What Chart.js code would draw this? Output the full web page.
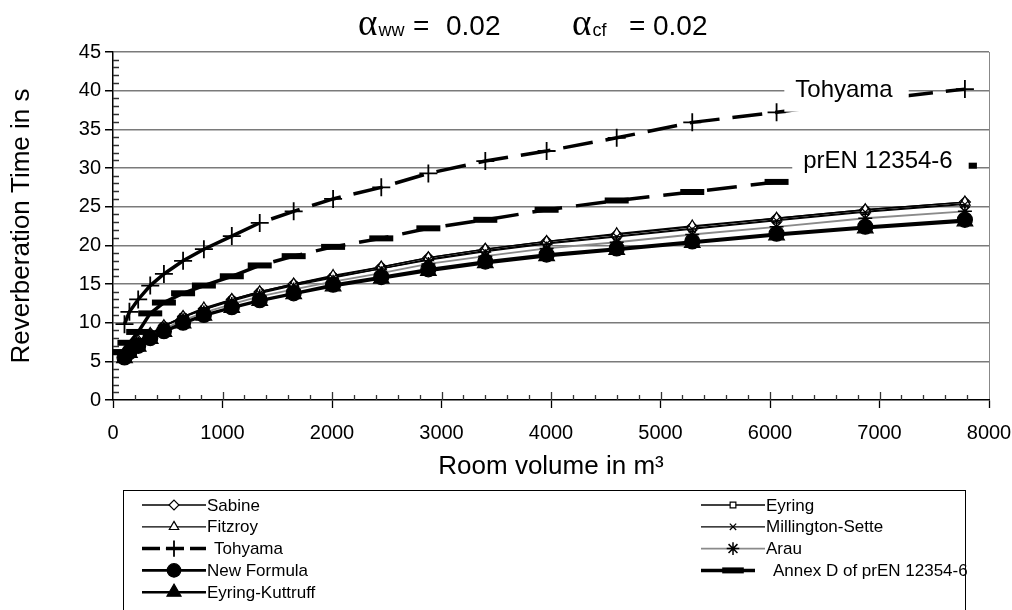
<!DOCTYPE html>
<html lang="en">
<head>
<meta charset="UTF-8">
<title>Reverberation time vs room volume</title>
<script src="https://cdn.jsdelivr.net/npm/chart.js@4"></script>
<style>
    * { margin: 0; padding: 0; box-sizing: border-box; }
    body { background: #fff; width: 1012px; height: 610px; overflow: hidden; }
    .wrap { position: relative; width: 1012px; height: 610px; }
</style>
</head>
<body>
<div class="wrap"><canvas id="rtChart"></canvas></div>
<script>
// room volumes in m³ (shared x values of all curves)
const volume = [105, 150, 230, 340, 465, 640, 830, 1085, 1340, 1650, 2010, 2450, 2880, 3400, 3960, 4600, 5290, 6060, 6870, 7780];

// reverberation times in s
const sabine          = [5.9, 6.7, 7.6, 8.6, 9.6, 10.8, 11.8, 13.0, 14.0, 15.0, 16.0, 17.2, 18.4, 19.5, 20.5, 21.4, 22.4, 23.5, 24.6, 25.6];
const eyring          = [5.8, 6.6, 7.5, 8.5, 9.5, 10.7, 11.7, 12.9, 13.9, 14.9, 15.9, 17.0, 18.2, 19.3, 20.3, 21.2, 22.2, 23.3, 24.4, 25.4];
const fitzroy         = [5.9, 6.7, 7.7, 8.6, 9.6, 10.8, 11.9, 13.0, 14.0, 15.0, 16.1, 17.2, 18.4, 19.5, 20.5, 21.5, 22.5, 23.5, 24.6, 25.6];
const millingtonSette = [5.8, 6.6, 7.5, 8.5, 9.5, 10.7, 11.7, 12.8, 13.8, 14.8, 15.8, 17.0, 18.1, 19.2, 20.2, 21.1, 22.1, 23.2, 24.3, 25.3];
const tohyama         = [9.8, 11.4, 13.0, 14.8, 16.3, 18.0, 19.5, 21.2, 22.9, 24.4, 26.0, 27.5, 29.3, 30.9, 32.2, 33.9, 35.9, 37.2, 38.7, 40.2];
const arau            = [5.6, 6.4, 7.3, 8.2, 9.2, 10.3, 11.3, 12.4, 13.4, 14.3, 15.3, 16.4, 17.6, 18.6, 19.6, 20.4, 21.4, 22.4, 23.5, 24.4];
const newFormula      = [5.5, 6.2, 7.0, 8.0, 8.9, 10.0, 11.0, 12.0, 12.9, 13.8, 14.9, 15.9, 16.9, 17.9, 18.8, 19.6, 20.5, 21.5, 22.4, 23.3];
const annexD          = [6.2, 7.4, 8.8, 11.2, 12.6, 13.8, 14.8, 16.0, 17.4, 18.6, 19.8, 20.9, 22.2, 23.3, 24.6, 25.8, 26.9, 28.2, 29.3, 30.3];
const eyringKuttruff  = [5.4, 6.1, 6.9, 7.9, 8.8, 9.9, 10.9, 11.9, 12.8, 13.7, 14.7, 15.7, 16.7, 17.7, 18.6, 19.4, 20.3, 21.3, 22.2, 23.1];

// axis ranges / tick steps
const xMin = 0, xMax = 8000, xStep = 1000, xMinorStep = 200;
const yMin = 0, yMax = 45, yStep = 5, yMinorStep = 1;

// in-plot curve labels (data coordinates of the text centre)
const curveLabels = [
    { text: 'Tohyama', x: 6676, y: 40.0 },
    { text: 'prEN 12354-6', x: 6986, y: 30.8 }
];

const FONT = '"Liberation Sans", Arial, sans-serif';
const pts = arr => volume.map((v, i) => ({ x: v, y: arr[i] }));
// Excel restarts the dash on every segment, so dense points look solid
const excelDash = pattern => ({ borderDash: c => (c.p0.parsed.x < 1000 ? [] : pattern) });

function series(label, data, o) {
    return Object.assign({
        label: label, data: pts(data),
        borderColor: '#000', borderWidth: 1.3,
        pointBackgroundColor: '#fff', pointBorderColor: '#000', pointBorderWidth: 1.2,
        pointRadius: 5, pointHoverRadius: 5, tension: 0, fill: false
    }, o);
}

const datasets = [
    series('Sabine', sabine, { pointStyle: 'rectRot', pointRadius: 5.5, order: 8 }),
    series('Eyring', eyring, { pointStyle: 'rect', pointRadius: 4.5, order: 7 }),
    series('Fitzroy', fitzroy, { pointStyle: 'triangle', pointRadius: 6, order: 6 }),
    series('Millington-Sette', millingtonSette, { pointStyle: 'crossRot', pointRadius: 5, order: 5 }),
    series('Tohyama', tohyama, { pointStyle: 'cross', pointRadius: 9, pointBorderWidth: 1.8, borderWidth: 3.5,
        segment: excelDash([30, 13]), legendDash: [18, 6], order: 3 }),
    series('Arau', arau, { pointStyle: 'star', pointRadius: 7, borderColor: '#8a8a8a', borderWidth: 1.8,
        pointBorderWidth: 1.5, order: 4 }),
    series('New Formula', newFormula, { pointStyle: 'circle', pointRadius: 7.5, pointBackgroundColor: '#000',
        borderWidth: 2.6, order: 1 }),
    series('Annex D of prEN 12354-6', annexD, { pointStyle: 'line', pointRadius: 12, pointBorderWidth: 6,
        borderWidth: 3.5, segment: excelDash([30, 14]), legendDash: [22, 10], order: 2 }),
    series('Eyring-Kuttruff', eyringKuttruff, { pointStyle: 'triangle', pointRadius: 9, pointBackgroundColor: '#000',
        borderWidth: 2.6, order: 0 })
];

// minor tick marks inside the plot area, plus upper half of the x major ticks
const minorTicks = {
    id: 'minorTicks',
    beforeDatasetsDraw(chart) {
        const { ctx, chartArea: a, scales: { x, y } } = chart;
        ctx.save();
        ctx.strokeStyle = '#333';
        ctx.lineWidth = 1.3;
        ctx.beginPath();
        for (let v = yMin + yMinorStep; v < yMax; v += yMinorStep) {
            if (v % yStep === 0) continue;
            const py = Math.round(y.getPixelForValue(v)) + 0.5;
            ctx.moveTo(a.left, py); ctx.lineTo(a.left + 6, py);
        }
        for (let v = xMin + xMinorStep; v < xMax; v += xMinorStep) {
            const px = Math.round(x.getPixelForValue(v)) + 0.5;
            ctx.moveTo(px, a.bottom); ctx.lineTo(px, a.bottom - (v % xStep === 0 ? 8 : 5));
        }
        ctx.stroke();
        ctx.restore();
    }
};

// white boxes with curve names, drawn over the curves
const inPlotLabels = {
    id: 'inPlotLabels',
    afterDatasetsDraw(chart) {
        const { ctx, scales: { x, y } } = chart;
        ctx.save();
        ctx.font = '24px ' + FONT;
        ctx.textAlign = 'center';
        ctx.textBaseline = 'middle';
        curveLabels.forEach(l => {
            const px = x.getPixelForValue(l.x), py = y.getPixelForValue(l.y);
            const w = ctx.measureText(l.text).width;
            ctx.fillStyle = '#fff';
            ctx.fillRect(px - w / 2 - 11, py - 15, w + 27, 36);
            ctx.fillStyle = '#000';
            ctx.fillText(l.text, px, py);
        });
        ctx.restore();
    }
};

// title with greek alpha and subscripts
const alphaTitle = {
    id: 'alphaTitle',
    afterDraw(chart) {
        const ctx = chart.ctx;
        const parts = [
            { a: 358, sub: 'ww', eq: 413, val: 446 },
            { a: 572, sub: 'cf', eq: 629, val: 653 }
        ];
        ctx.save();
        ctx.fillStyle = '#000';
        ctx.textBaseline = 'alphabetic';
        parts.forEach(p => {
            ctx.font = '37px "Liberation Serif", serif';
            ctx.fillText('\u03b1', p.a, 35);
            const aw = ctx.measureText('\u03b1').width;
            ctx.font = '18px ' + FONT;
            ctx.fillText(p.sub, p.a + aw + 1, 36);
            ctx.font = '28px ' + FONT;
            ctx.fillText('=', p.eq, 35);
            ctx.fillText('0.02', p.val, 35);
        });
        ctx.restore();
    }
};

// boxed two-column legend under the chart
const boxLegend = {
    id: 'boxLegend',
    afterDraw(chart) {
        const { ctx, chartArea: a } = chart;
        const top = a.bottom + 90, left = a.left + 10, right = a.right - 24;
        ctx.save();
        ctx.strokeStyle = '#000';
        ctx.lineWidth = 1;
        ctx.strokeRect(left + 0.5, top + 0.5, right - left, 200);
        const colX = [left + 19, left + 578];
        chart.data.datasets.forEach((ds, i) => {
            const x0 = colX[i % 2], yy = top + 15 + Math.floor(i / 2) * 21.8;
            const x1 = x0 + 64, xm = x0 + 32;
            ctx.setLineDash(ds.legendDash || []);
            ctx.strokeStyle = ds.borderColor;
            ctx.lineWidth = ds.borderWidth;
            ctx.beginPath(); ctx.moveTo(x0, yy); ctx.lineTo(x1, yy); ctx.stroke();
            ctx.setLineDash([]);
            ctx.fillStyle = ds.pointBackgroundColor;
            ctx.strokeStyle = ds.pointBorderColor;
            ctx.lineWidth = ds.pointBorderWidth;
            Chart.helpers.drawPoint(ctx, { pointStyle: ds.pointStyle, radius: ds.pointRadius * 0.9,
                borderWidth: ds.pointBorderWidth, rotation: 0 }, xm, yy);
            ctx.fillStyle = '#000';
            ctx.font = '17px ' + FONT;
            ctx.textBaseline = 'middle';
            ctx.fillText(ds.label, x1 + (ds.legendDash ? 8 : 1), yy + 1);
        });
        ctx.restore();
    }
};

new Chart(document.getElementById('rtChart'), {
    type: 'line',
    data: { datasets: datasets },
    options: {
        responsive: true,
        maintainAspectRatio: false,
        animation: false,
        layout: { padding: { top: 52, right: 23, bottom: 120, left: 0 } },
        plugins: { legend: { display: false }, tooltip: { enabled: false } },
        scales: {
            x: {
                type: 'linear', min: xMin, max: xMax,
                afterFit: s => { s.height = 90; s.paddingRight = 20; },
                ticks: { stepSize: xStep, color: '#000', padding: 13, font: { family: FONT, size: 20 },
                    callback: v => String(v) },
                grid: {
                    drawOnChartArea: true, tickLength: 8,
                    color: c => (c.tick && c.tick.value === xMax ? '#888' : 'transparent'),
                    tickColor: '#000', tickWidth: 1.3
                },
                border: { color: '#000', width: 1.5 },
                title: { display: true, text: 'Room volume in m³', color: '#000',
                    font: { family: FONT, size: 26 }, padding: { top: 0, bottom: 8 } }
            },
            y: {
                min: yMin, max: yMax,
                afterFit: s => { s.width = 113; },
                ticks: { stepSize: yStep, color: '#000', padding: 4, font: { family: FONT, size: 20 },
                    callback: v => String(v) },
                grid: {
                    tickLength: 8,
                    color: c => (c.tick && c.tick.value === yMin ? 'transparent' : '#7a7a7a'),
                    tickColor: '#000', lineWidth: 1.5
                },
                border: { color: '#000', width: 1.5 },
                title: { display: true, text: 'Reverberation Time in s', color: '#000',
                    font: { family: FONT, size: 26 }, padding: { top: 6, bottom: 0 } }
            }
        }
    },
    plugins: [minorTicks, inPlotLabels, alphaTitle, boxLegend]
});
</script>
</body>
</html>
